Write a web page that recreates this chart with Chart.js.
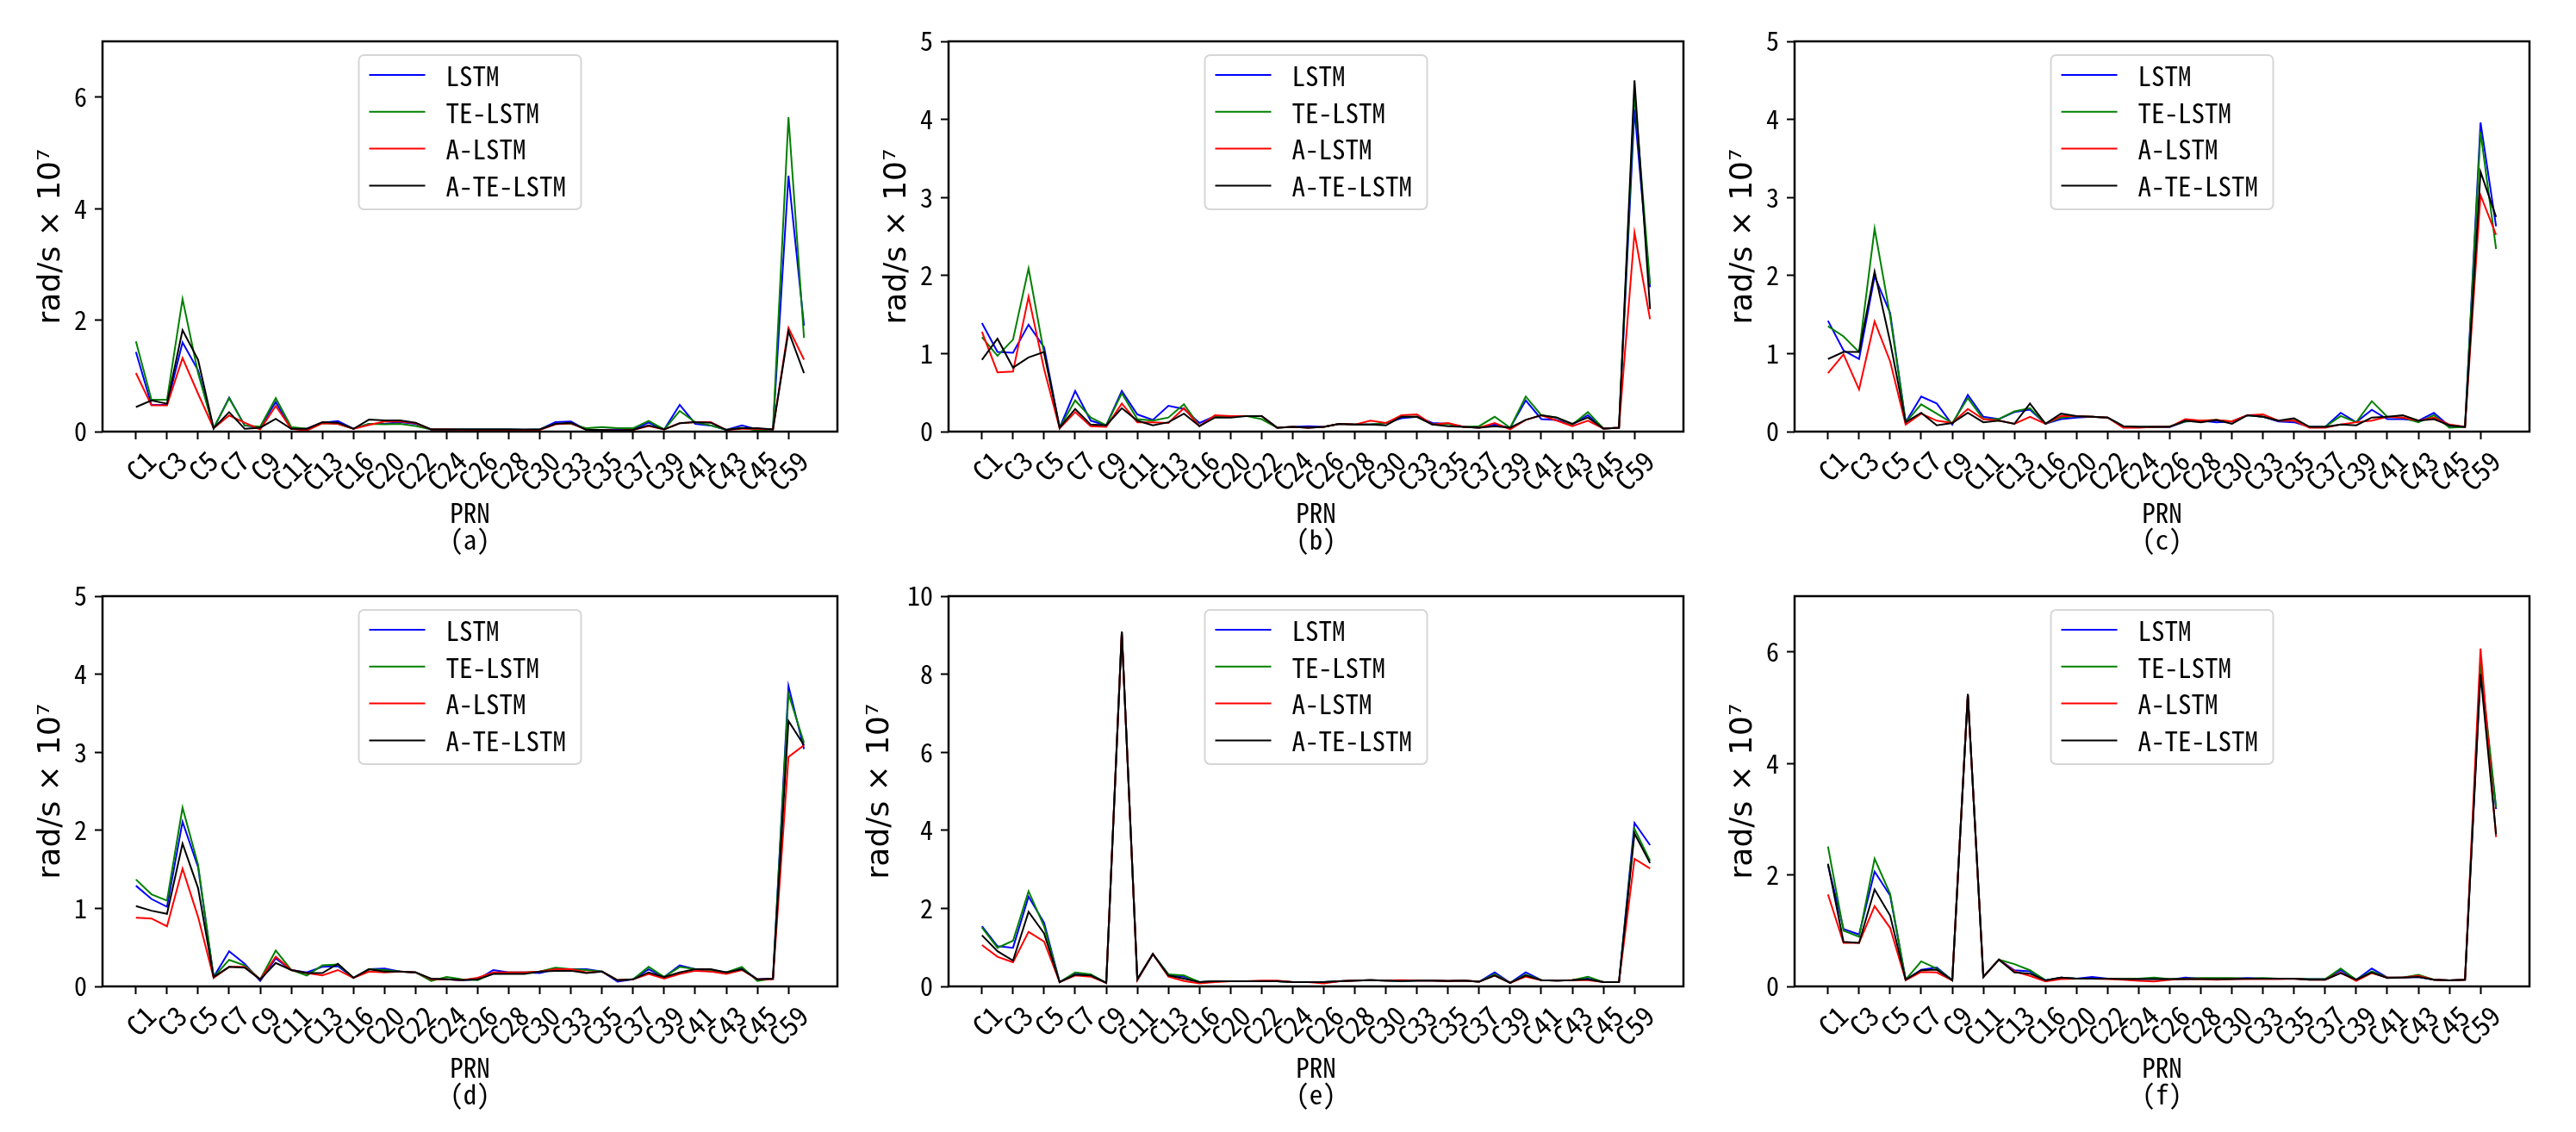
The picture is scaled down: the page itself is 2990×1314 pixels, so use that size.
<!DOCTYPE html>
<html><head><meta charset="utf-8">
<script src="https://cdn.jsdelivr.net/npm/chart.js@4.4.1/dist/chart.umd.min.js"></script>
<style>
html,body{margin:0;padding:0;background:#fff;}
body{width:2990px;height:1314px;position:relative;overflow:hidden;}
canvas{position:absolute;}
</style></head><body>
<script>
// ---------- data ----------
const PRN = ['C1','C2','C3','C4','C5','C6','C7','C8','C9','C10','C11','C12','C13','C14','C16','C19',
  'C20','C21','C22','C23','C24','C25','C26','C27','C28','C29','C30','C32','C33','C34','C35','C36',
  'C37','C38','C39','C40','C41','C42','C43','C44','C45','C46','C59','C60'];
const tickIndex = PRN.map((p, i) => i).filter(i => i % 2 === 0);
const seriesNames = ['LSTM', 'TE-LSTM', 'A-LSTM', 'A-TE-LSTM'];
const panelLetters = ['(a)', '(b)', '(c)', '(d)', '(e)', '(f)'];
const yMaxes = [7, 5, 5, 5, 10, 7];
const ySteps = [2, 1, 1, 1, 2, 2];

const lstmA = [1.43,0.48,0.48,1.6,1.1,0.06,0.61,0.11,0.08,0.53,0.05,0.05,0.16,0.19,0.05,0.14,0.14,0.17,0.14,0.04,0.04,0.04,0.04,0.04,0.04,0.03,0.04,0.17,0.18,0.03,0.03,0.04,0.04,0.16,0.04,0.48,0.14,0.11,0.03,0.11,0.04,0.04,4.59,1.9];
const teA   = [1.62,0.57,0.57,2.38,1.05,0.06,0.6,0.11,0.09,0.6,0.08,0.05,0.15,0.14,0.05,0.14,0.13,0.14,0.1,0.04,0.04,0.04,0.04,0.04,0.04,0.03,0.04,0.14,0.14,0.06,0.08,0.06,0.06,0.19,0.04,0.37,0.17,0.11,0.03,0.07,0.02,0.04,5.64,1.68];
const aA    = [1.05,0.47,0.47,1.32,0.68,0.06,0.29,0.16,0.04,0.46,0.05,0.02,0.15,0.14,0.05,0.12,0.18,0.18,0.15,0.04,0.04,0.03,0.03,0.03,0.03,0.03,0.03,0.13,0.15,0.03,0.03,0.02,0.03,0.1,0.04,0.15,0.17,0.17,0.03,0.05,0.05,0.04,1.86,1.29];
const ateA  = [0.44,0.56,0.5,1.82,1.29,0.06,0.35,0.05,0.07,0.23,0.05,0.05,0.17,0.16,0.05,0.215,0.2,0.2,0.16,0.04,0.04,0.04,0.04,0.04,0.04,0.04,0.04,0.14,0.16,0.03,0.03,0.02,0.03,0.11,0.04,0.15,0.17,0.16,0.03,0.06,0.06,0.04,1.8,1.05];

const lstmB = [1.39,1.02,1.01,1.37,1.08,0.05,0.52,0.14,0.08,0.52,0.22,0.15,0.33,0.29,0.11,0.2,0.2,0.2,0.2,0.05,0.06,0.07,0.06,0.1,0.09,0.09,0.11,0.17,0.19,0.11,0.1,0.06,0.05,0.09,0.05,0.4,0.16,0.15,0.09,0.21,0.04,0.05,4.13,1.85];
const teB   = [1.21,0.97,1.18,2.09,1.0,0.05,0.4,0.18,0.08,0.49,0.16,0.14,0.18,0.35,0.07,0.2,0.2,0.2,0.16,0.05,0.06,0.05,0.06,0.1,0.09,0.09,0.11,0.19,0.19,0.09,0.1,0.06,0.07,0.19,0.05,0.45,0.21,0.18,0.09,0.25,0.04,0.05,4.34,1.89];
const aB    = [1.28,0.76,0.77,1.73,0.8,0.04,0.25,0.07,0.06,0.36,0.12,0.12,0.11,0.3,0.07,0.21,0.2,0.2,0.2,0.05,0.06,0.05,0.06,0.1,0.09,0.14,0.11,0.21,0.22,0.09,0.11,0.06,0.05,0.11,0.03,0.15,0.21,0.14,0.07,0.14,0.04,0.05,2.55,1.44];
const ateB  = [0.92,1.19,0.82,0.95,1.02,0.05,0.29,0.09,0.08,0.3,0.14,0.08,0.12,0.23,0.07,0.18,0.18,0.2,0.2,0.05,0.06,0.05,0.06,0.1,0.09,0.09,0.08,0.19,0.19,0.09,0.07,0.06,0.05,0.07,0.05,0.15,0.21,0.18,0.1,0.18,0.04,0.05,4.5,1.57];

const lstmC = [1.42,1.04,0.93,1.99,1.52,0.12,0.45,0.36,0.09,0.47,0.19,0.16,0.25,0.28,0.1,0.16,0.18,0.19,0.18,0.07,0.06,0.06,0.06,0.13,0.14,0.12,0.13,0.21,0.19,0.13,0.12,0.06,0.06,0.24,0.12,0.28,0.16,0.16,0.14,0.24,0.07,0.06,3.96,2.63];
const teC   = [1.35,1.22,1.02,2.6,1.48,0.12,0.35,0.23,0.11,0.43,0.16,0.16,0.26,0.3,0.1,0.18,0.2,0.19,0.18,0.07,0.06,0.06,0.07,0.13,0.14,0.15,0.13,0.21,0.19,0.14,0.14,0.06,0.06,0.2,0.12,0.39,0.19,0.18,0.12,0.21,0.05,0.06,3.84,2.34];
const aC    = [0.75,0.99,0.54,1.41,0.9,0.09,0.23,0.14,0.11,0.29,0.16,0.14,0.1,0.19,0.1,0.2,0.2,0.19,0.18,0.05,0.05,0.06,0.06,0.16,0.14,0.15,0.13,0.21,0.22,0.14,0.14,0.05,0.05,0.09,0.12,0.14,0.19,0.18,0.14,0.18,0.09,0.06,3.03,2.52];
const ateC  = [0.93,1.02,1.02,2.05,1.15,0.12,0.24,0.08,0.11,0.24,0.12,0.14,0.1,0.36,0.1,0.23,0.2,0.19,0.18,0.07,0.06,0.06,0.06,0.14,0.12,0.15,0.1,0.21,0.19,0.14,0.17,0.06,0.06,0.09,0.08,0.18,0.19,0.21,0.14,0.16,0.08,0.06,3.33,2.75];

const lstmD = [1.29,1.12,1.02,2.11,1.53,0.12,0.45,0.29,0.07,0.36,0.21,0.18,0.25,0.26,0.11,0.22,0.23,0.19,0.18,0.09,0.09,0.08,0.09,0.21,0.18,0.18,0.17,0.22,0.22,0.22,0.19,0.06,0.09,0.22,0.12,0.27,0.22,0.19,0.18,0.23,0.09,0.1,3.85,3.04];
const teD   = [1.37,1.18,1.1,2.29,1.56,0.12,0.34,0.27,0.09,0.46,0.21,0.14,0.27,0.28,0.11,0.22,0.21,0.19,0.18,0.07,0.12,0.09,0.08,0.17,0.18,0.18,0.19,0.24,0.22,0.21,0.19,0.08,0.09,0.25,0.12,0.25,0.22,0.21,0.18,0.25,0.07,0.1,3.75,3.12];
const aD    = [0.88,0.87,0.77,1.51,0.89,0.11,0.25,0.25,0.09,0.38,0.21,0.17,0.14,0.21,0.11,0.19,0.18,0.19,0.18,0.09,0.09,0.08,0.11,0.18,0.18,0.18,0.19,0.22,0.22,0.18,0.19,0.08,0.09,0.16,0.1,0.16,0.2,0.19,0.16,0.21,0.09,0.09,2.94,3.09];
const ateD  = [1.03,0.97,0.93,1.83,1.26,0.12,0.25,0.24,0.09,0.3,0.21,0.17,0.17,0.29,0.11,0.22,0.19,0.19,0.18,0.1,0.09,0.08,0.09,0.16,0.16,0.16,0.19,0.2,0.2,0.17,0.19,0.08,0.09,0.18,0.12,0.18,0.22,0.22,0.18,0.22,0.09,0.1,3.4,3.09];

const lstmE = [1.54,1.03,0.99,2.3,1.63,0.11,0.34,0.3,0.09,9.09,0.18,0.83,0.3,0.25,0.11,0.13,0.13,0.13,0.13,0.13,0.11,0.11,0.11,0.13,0.15,0.16,0.15,0.14,0.15,0.15,0.14,0.15,0.12,0.36,0.09,0.36,0.16,0.15,0.16,0.2,0.11,0.11,4.19,3.62];
const teE   = [1.51,0.99,1.17,2.44,1.54,0.11,0.36,0.31,0.09,9.09,0.18,0.83,0.31,0.28,0.11,0.13,0.13,0.13,0.13,0.13,0.11,0.11,0.11,0.13,0.15,0.16,0.15,0.14,0.15,0.15,0.14,0.15,0.12,0.31,0.09,0.3,0.16,0.15,0.16,0.25,0.11,0.11,4.04,3.22];
const aE    = [1.06,0.76,0.62,1.4,1.15,0.11,0.28,0.25,0.09,9.09,0.16,0.83,0.25,0.14,0.08,0.11,0.13,0.13,0.15,0.15,0.11,0.11,0.08,0.13,0.15,0.16,0.15,0.16,0.15,0.15,0.14,0.15,0.12,0.28,0.09,0.25,0.16,0.15,0.16,0.16,0.11,0.11,3.27,3.02];
const ateE  = [1.31,0.9,0.66,1.91,1.36,0.11,0.3,0.28,0.09,9.09,0.18,0.83,0.28,0.2,0.11,0.13,0.13,0.13,0.13,0.13,0.11,0.11,0.11,0.13,0.15,0.16,0.15,0.14,0.15,0.15,0.14,0.15,0.12,0.28,0.09,0.28,0.16,0.15,0.16,0.18,0.11,0.11,3.92,3.16];

const lstmF = [2.18,1.03,0.93,2.06,1.63,0.12,0.3,0.34,0.11,5.24,0.17,0.48,0.29,0.27,0.11,0.16,0.14,0.17,0.14,0.14,0.13,0.14,0.12,0.16,0.14,0.14,0.14,0.15,0.14,0.14,0.14,0.13,0.13,0.29,0.12,0.32,0.16,0.16,0.17,0.12,0.11,0.12,5.7,3.18];
const teF   = [2.51,1.0,0.89,2.29,1.66,0.12,0.45,0.32,0.11,5.24,0.17,0.48,0.4,0.29,0.11,0.16,0.14,0.14,0.14,0.14,0.14,0.16,0.13,0.14,0.15,0.15,0.15,0.14,0.15,0.14,0.14,0.13,0.13,0.32,0.12,0.27,0.16,0.16,0.21,0.12,0.11,0.12,5.8,3.21];
const aF    = [1.65,0.78,0.78,1.44,1.05,0.11,0.26,0.25,0.11,5.24,0.17,0.48,0.27,0.19,0.09,0.13,0.14,0.14,0.13,0.12,0.1,0.09,0.12,0.13,0.13,0.12,0.13,0.13,0.13,0.13,0.14,0.12,0.12,0.25,0.1,0.24,0.16,0.16,0.19,0.12,0.11,0.12,6.06,2.68];
const ateF  = [2.2,0.8,0.78,1.74,1.27,0.12,0.29,0.3,0.11,5.24,0.17,0.48,0.25,0.23,0.11,0.16,0.14,0.14,0.14,0.13,0.13,0.13,0.13,0.13,0.13,0.13,0.13,0.14,0.14,0.14,0.14,0.12,0.12,0.24,0.12,0.25,0.15,0.16,0.17,0.12,0.11,0.12,5.6,2.73];

const panelSeries = [
  [lstmA, teA, aA, ateA], [lstmB, teB, aB, ateB], [lstmC, teC, aC, ateC],
  [lstmD, teD, aD, ateD], [lstmE, teE, aE, ateE], [lstmF, teF, aF, ateF]
];

// ---------- styling / layout ----------
const COLORS = ['#0000ff', '#008000', '#ff0000', '#000000'];
const FONT = "'Noto Sans Mono CJK SC', 'Noto Sans CJK SC', sans-serif";
const COL_LEFT = [119, 1101, 2083];
const ROW_TOP = [45, 689];
const AREA_W = 853, AREA_H = 456;
const PAD_T = 24, PAD_R = 24, X_AXIS_H = 150;

const mplFrame = {
  id: 'mplFrame',
  afterDatasetsDraw(chart) {
    const { ctx, chartArea: a } = chart;
    ctx.save();
    ctx.strokeStyle = '#000';
    ctx.lineWidth = 2.5;
    ctx.strokeRect(a.left, a.top, a.right - a.left, a.bottom - a.top);
    // legend (matplotlib-style, upper center)
    const bw = 258, bh = 179;
    const bx = (a.left + a.right) / 2 - bw / 2, by = a.top + 16;
    const r = 6;
    ctx.beginPath();
    ctx.moveTo(bx + r, by);
    ctx.arcTo(bx + bw, by, bx + bw, by + bh, r);
    ctx.arcTo(bx + bw, by + bh, bx, by + bh, r);
    ctx.arcTo(bx, by + bh, bx, by, r);
    ctx.arcTo(bx, by, bx + bw, by, r);
    ctx.closePath();
    ctx.fillStyle = 'rgba(255,255,255,0.8)';
    ctx.fill();
    ctx.strokeStyle = '#d6d6d6';
    ctx.lineWidth = 2;
    ctx.stroke();
    ctx.font = "31px " + FONT;
    ctx.textBaseline = 'middle';
    ctx.textAlign = 'left';
    seriesNames.forEach((name, i) => {
      const y = by + 23 + i * 42.8;
      ctx.beginPath();
      ctx.moveTo(bx + 12, y);
      ctx.lineTo(bx + 77, y);
      ctx.strokeStyle = COLORS[i];
      ctx.lineWidth = 2;
      ctx.stroke();
      ctx.fillStyle = '#000';
      ctx.fillText(name, bx + 101, y + 1);
    });
    ctx.restore();
  }
};

panelSeries.forEach((series, p) => {
  const col = p % 3, row = Math.floor(p / 3);
  const yW = p === 4 ? 104 : 84;
  const cv = document.createElement('canvas');
  const w = yW + AREA_W + PAD_R, h = PAD_T + AREA_H + X_AXIS_H;
  cv.width = w; cv.height = h;
  cv.style.width = w + 'px'; cv.style.height = h + 'px';
  cv.style.left = (COL_LEFT[col] - yW) + 'px';
  cv.style.top = (ROW_TOP[row] - PAD_T) + 'px';
  document.body.appendChild(cv);

  new Chart(cv, {
    type: 'line',
    data: {
      datasets: series.map((vals, k) => ({
        label: seriesNames[k],
        data: vals.map((v, i) => ({ x: i, y: v })),
        borderColor: COLORS[k],
        backgroundColor: COLORS[k],
        borderWidth: 2,
        pointRadius: 0,
        tension: 0,
        fill: false,
        order: 3 - k
      }))
    },
    options: {
      responsive: false,
      animation: false,
      devicePixelRatio: 1,
      layout: { padding: { top: PAD_T, right: PAD_R, left: 0, bottom: 0 } },
      plugins: { legend: { display: false }, tooltip: { enabled: false } },
      scales: {
        x: {
          type: 'linear',
          min: -2.15, max: 45.15,
          afterBuildTicks: s => { s.ticks = tickIndex.map(v => ({ value: v })); },
          afterFit: s => { s.height = X_AXIS_H; },
          ticks: {
            autoSkip: false, minRotation: 45, maxRotation: 45,
            callback: v => PRN[v],
            font: { family: FONT, size: 32 }, color: '#000',
            padding: 6, labelOffset: 17
          },
          grid: { drawOnChartArea: false, drawTicks: true, tickLength: 9, tickWidth: 2, tickColor: '#000' },
          border: { display: false },
          title: {
            display: true, text: ['PRN', panelLetters[p]],
            font: { family: FONT, size: 31, lineHeight: 1.0 }, color: '#000',
            padding: { top: 0, bottom: 9 }
          }
        },
        y: {
          min: 0, max: yMaxes[p],
          afterFit: s => { s.width = yW; },
          ticks: { stepSize: ySteps[p], includeBounds: false, font: { family: FONT, size: 30 }, color: '#000', padding: 9 },
          grid: { drawOnChartArea: false, drawTicks: true, tickLength: 9, tickWidth: 2, tickColor: '#000' },
          border: { display: false },
          title: {
            display: true, text: 'rad/s × 10⁷',
            font: { family: "'DejaVu Sans', sans-serif", size: 36, lineHeight: 1.2 }, color: '#000',
            padding: { top: 3, bottom: 0 }
          }
        }
      }
    },
    plugins: [mplFrame]
  });
});
</script>
</body></html>
